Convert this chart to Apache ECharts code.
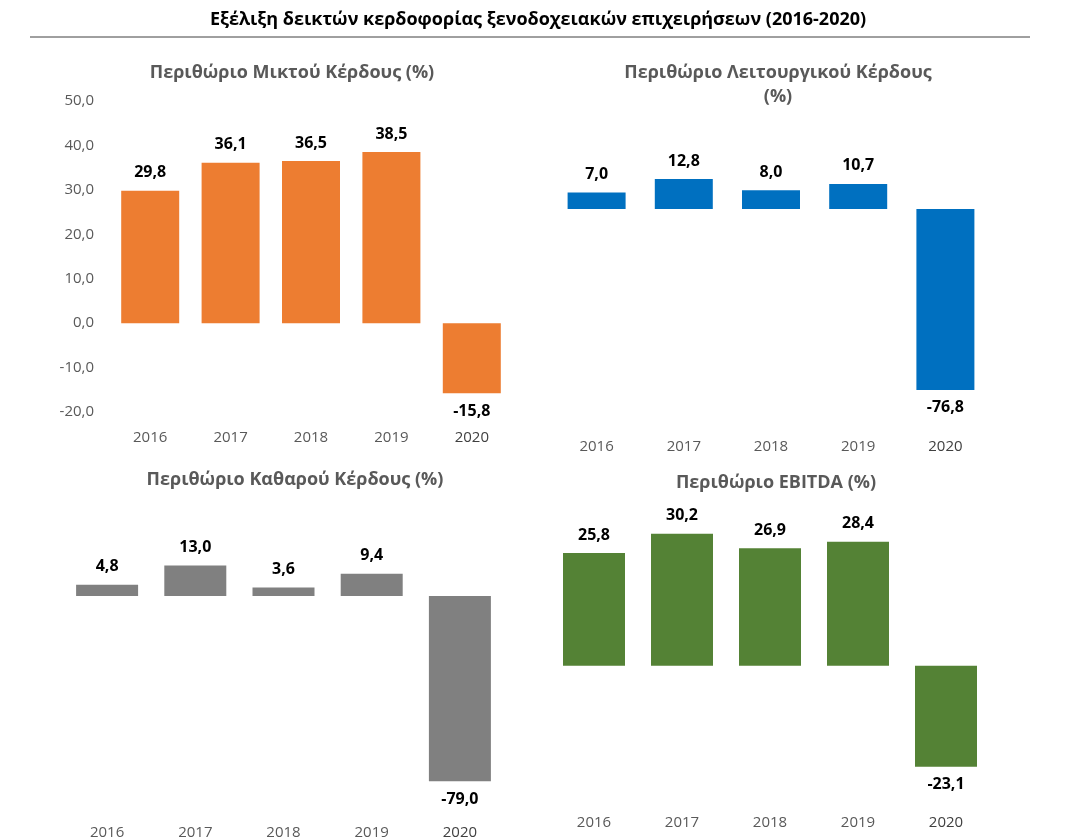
<!DOCTYPE html>
<html>
<head>
<meta charset="utf-8">
<script src="https://cdn.jsdelivr.net/npm/echarts@6/dist/echarts.min.js"></script>
<style>
  body { margin: 0; background: #fff; }
  #main { width: 1076px; height: 840px; }
</style>
</head>
<body>
<div id="main"></div>
<script>
var years = ['2016', '2017', '2018', '2019', '2020'];
var grossMargin = [29.8, 36.1, 36.5, 38.5, -15.8];
var operatingMargin = [7.0, 12.8, 8.0, 10.7, -76.8];
var netMargin = [4.8, 13.0, 3.6, 9.4, -79.0];
var ebitdaMargin = [25.8, 30.2, 26.9, 28.4, -23.1];
var grossTicks = [-20, -10, 0, 10, 20, 30, 40, 50];

var chart = echarts.init(document.getElementById('main'));

function fmt(v) { return v.toFixed(1).replace('.', ','); }

// grid placement for the four panels
var panels = [
  { data: grossMargin, color: '#ED7D31', left: 110, width: 402, top: 101, height: 311, min: -20, max: 50, barW: 58, yAxis: true },
  { data: operatingMargin, color: '#0070C0', left: 553, width: 436, top: 162, height: 259, min: -90, max: 20, barW: 58 },
  { data: netMargin, color: '#808080', left: 63, width: 441, top: 549, height: 284, min: -90, max: 20, barW: 62 },
  { data: ebitdaMargin, color: '#548235', left: 550, width: 440, top: 491, height: 306, min: -30, max: 40, barW: 62 }
];

var grids = [], xAxes = [], yAxes = [], series = [];
panels.forEach(function (p, i) {
  grids.push({ left: p.left, top: p.top, width: p.width, height: p.height });
  xAxes.push({
    type: 'category', gridIndex: i, data: years,
    axisLine: { show: false, onZero: true }, axisTick: { show: false },
    axisLabel: {
      margin: 18, fontSize: 15, fontFamily: 'Open Sans',
      color: function (v) { return v === '2020' ? '#404040' : '#595959'; }
    },
    z: 10
  });
  yAxes.push({
    type: 'value', gridIndex: i, min: p.min, max: p.max, interval: 10,
    splitLine: { show: false },
    axisLine: { show: false }, axisTick: { show: false },
    axisLabel: {
      show: !!p.yAxis, fontSize: 15, fontFamily: 'Open Sans', color: '#595959', margin: 16,
      formatter: function (v) { return fmt(v); }
    }
  });
  series.push({
    type: 'bar', xAxisIndex: i, yAxisIndex: i, barWidth: p.barW,
    itemStyle: { color: p.color },
    data: p.data.map(function (v) {
      return { value: v, label: { position: v < 0 ? 'bottom' : 'top' } };
    }),
    label: {
      show: true, distance: 10, fontSize: 16, fontWeight: 'bold', color: '#000',
      fontFamily: 'Open Sans',
      formatter: function (d) { return fmt(d.value); }
    }
  });
});

var titleStyle = { fontSize: 18, fontWeight: 'bold', color: '#595959', fontFamily: 'Open Sans', lineHeight: 24 };

chart.setOption({
  animation: false,
  title: [
    { text: 'Εξέλιξη δεικτών κερδοφορίας ξενοδοχειακών επιχειρήσεων (2016-2020)', left: 'center', top: 6,
      textStyle: { fontSize: 18, fontWeight: 'bold', color: '#000', fontFamily: 'Open Sans' } },
    { text: 'Περιθώριο Μικτού Κέρδους (%)', left: 287, top: 56, textAlign: 'center', textStyle: titleStyle },
    { text: 'Περιθώριο Λειτουργικού Κέρδους\n(%)', left: 773, top: 56, textAlign: 'center', textStyle: titleStyle },
    { text: 'Περιθώριο Καθαρού Κέρδους (%)', left: 290, top: 463, textAlign: 'center', textStyle: titleStyle },
    { text: 'Περιθώριο EBITDA (%)', left: 771, top: 466, textAlign: 'center', textStyle: titleStyle }
  ],
  graphic: [
    { type: 'line', shape: { x1: 30, y1: 37, x2: 1030, y2: 37 }, style: { stroke: '#404040', lineWidth: 1 } }
  ],
  grid: grids,
  xAxis: xAxes,
  yAxis: yAxes,
  series: series
});
</script>
</body>
</html>
